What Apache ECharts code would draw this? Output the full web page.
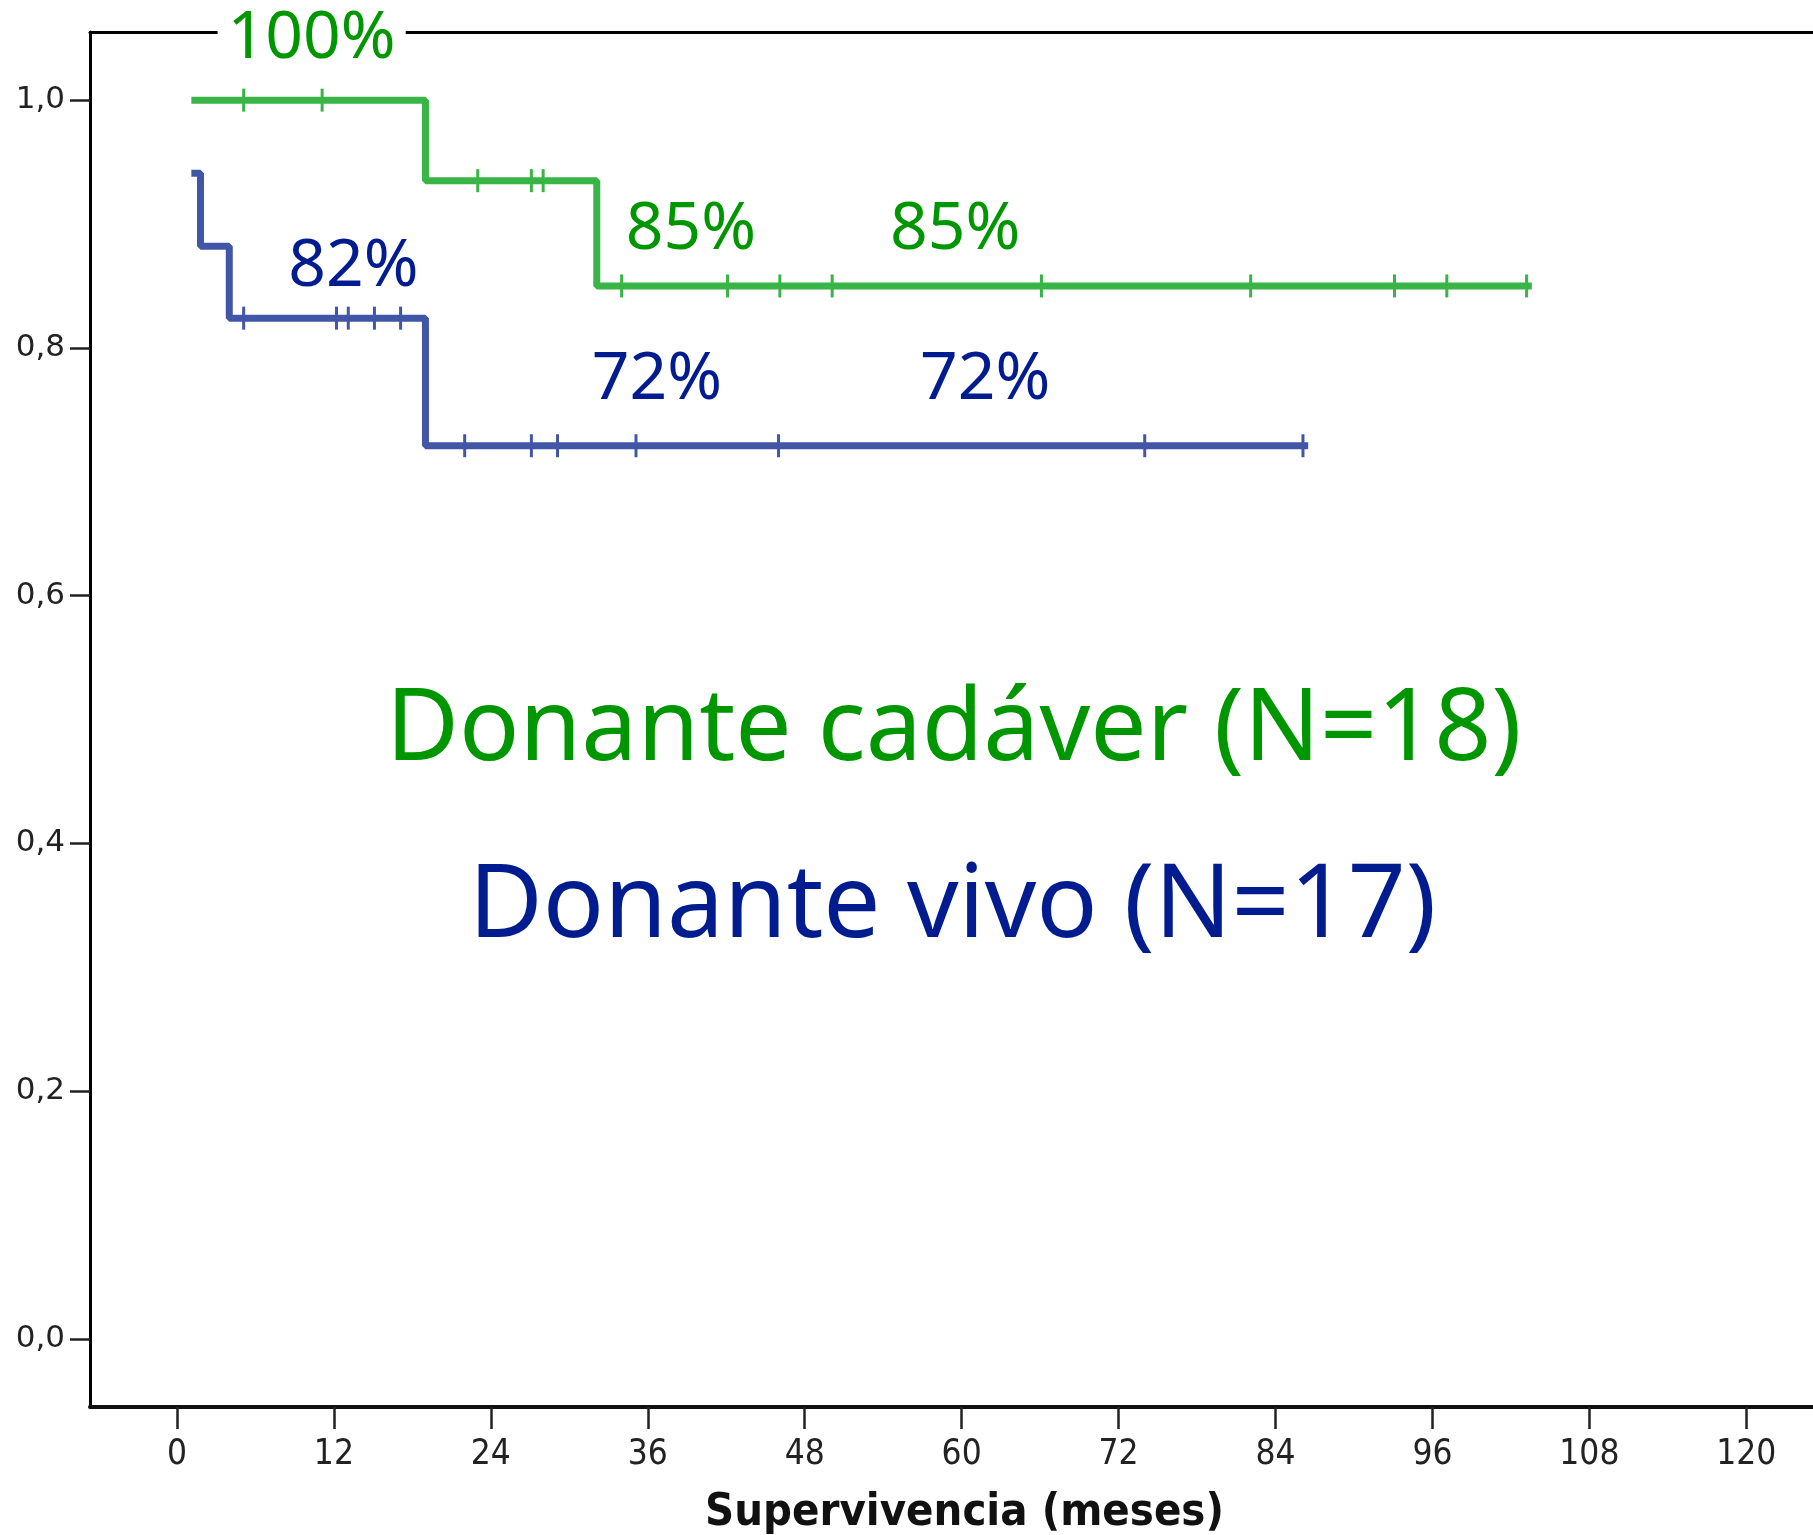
<!DOCTYPE html>
<html><head><meta charset="utf-8">
<script src="https://cdn.jsdelivr.net/npm/echarts@6/dist/echarts.min.js"></script>
<style>html,body{margin:0;padding:0;background:#fff}#c{width:1813px;height:1535px}</style>
</head><body><div id="c"></div>
<script>
// ---- data ----
const xTicks = [0, 12, 24, 36, 48, 60, 72, 84, 96, 108, 120];
const yTicks = [0, 0.2, 0.4, 0.6, 0.8, 1.0];
const yTickLabels = ['0,0', '0,2', '0,4', '0,6', '0,8', '1,0'];
const xTitle = 'Supervivencia (meses)';

const groupNames = ['Donante cadáver (N=18)', 'Donante vivo (N=17)'];
const groupNameAnchors = [[59.4, 0.490], [59.3, 0.348]];

// Kaplan-Meier steps [months, survival]
const cadaverSteps = [[1.1, 1.0], [19.0, 0.935], [32.1, 0.85], [103.6, 0.85]];
const cadaverCensored = [[5.1, 1.0], [11.1, 1.0], [23.0, 0.935], [27.1, 0.935], [28.0, 0.935],
  [34.0, 0.85], [42.1, 0.85], [46.1, 0.85], [50.1, 0.85], [66.1, 0.85], [82.1, 0.85],
  [93.1, 0.85], [97.1, 0.85], [103.2, 0.85]];
const vivoSteps = [[1.1, 0.941], [1.8, 0.882], [4.0, 0.824], [19.0, 0.721], [86.5, 0.721]];
const vivoCensored = [[5.1, 0.824], [12.2, 0.824], [13.1, 0.824], [15.1, 0.824], [17.1, 0.824],
  [22.0, 0.721], [27.1, 0.721], [29.1, 0.721], [35.1, 0.721], [46.0, 0.721], [74.0, 0.721], [86.1, 0.721]];

// percentage annotations [months, survival, text]
const cadaverPct = [[10.3, 1.049, '100%'], [39.3, 0.895, '85%'], [59.5, 0.895, '85%']];
const vivoPct = [[13.5, 0.865, '82%'], [36.7, 0.774, '72%'], [61.8, 0.774, '72%']];

// ---- styles ----
const greenLine = '#38B546', blueLine = '#4256A8';
const greenText = '#009600', blueText = '#001C8F';
const narrow = "'Liberation Sans Narrow','DejaVu Sans Condensed','Liberation Sans',sans-serif";

function textSeries(points, color, size, extra) {
  return {
    type: 'scatter', symbolSize: 1, silent: true, z: 10,
    itemStyle: { color: 'rgba(0,0,0,0)', opacity: 1 },
    data: points.map(p => ({ value: [p[0], p[1]], name: p[2] })),
    label: Object.assign({
      show: true, position: 'inside', formatter: d => d.name,
      color: color, fontSize: size, fontFamily: "'Noto Sans',sans-serif"
    }, extra || {})
  };
}
function censorSeries(points, color) {
  return {
    type: 'scatter', symbol: 'rect', symbolSize: [3, 23], silent: true, z: 5,
    itemStyle: { color: color, opacity: 1 }, data: points
  };
}
function stepSeries(points, color) {
  return {
    type: 'line', step: 'end', showSymbol: false, silent: true, z: 4, clip: false,
    lineStyle: { color: color, width: 7 }, data: points
  };
}

const xMin = -6.65, xMax = 125.1;
const chart = echarts.init(document.getElementById('c'), null, { renderer: 'canvas' });
chart.setOption({
  animation: false,
  backgroundColor: '#fff',
  grid: { left: 90, top: 32, right: 0, bottom: 128, containLabel: false, outerBoundsMode: 'none' },
  xAxis: [{
    type: 'value', min: xMin, max: xMax, position: 'bottom',
    axisLine: { show: true, onZero: false, lineStyle: { color: '#111', width: 4 } },
    axisTick: { show: true, customValues: xTicks, length: 22, lineStyle: { color: '#222', width: 2.5 } },
    axisLabel: { customValues: xTicks, margin: 30, fontSize: 35, fontFamily: narrow, color: '#222' },
    splitLine: { show: false },
    name: xTitle, nameLocation: 'middle', nameGap: 84,
    nameTextStyle: { fontSize: 45, fontWeight: 'bold', fontFamily: narrow, color: '#111', padding: [0, 0, 0, 26] }
  }, {
    type: 'value', min: xMin, max: xMax, position: 'top',
    axisLine: { show: true, onZero: false, lineStyle: { color: '#000', width: 3 } },
    axisTick: { show: false }, axisLabel: { show: false }, splitLine: { show: false }
  }],
  yAxis: {
    type: 'value', min: -0.055, max: 1.055,
    axisLine: { show: true, onZero: false, lineStyle: { color: '#000', width: 3 } },
    axisTick: { show: true, customValues: yTicks, length: 20, lineStyle: { color: '#222', width: 2.5 } },
    axisLabel: {
      customValues: yTicks, margin: 25, fontSize: 31, color: '#222',
      fontFamily: "'DejaVu Sans',sans-serif",
      formatter: v => { const i = yTicks.findIndex(t => Math.abs(t - v) < 1e-6); return i >= 0 ? yTickLabels[i] : ''; }
    },
    splitLine: { show: false }
  },
  series: [
    stepSeries(cadaverSteps, greenLine),
    stepSeries(vivoSteps, blueLine),
    censorSeries(cadaverCensored, greenLine),
    censorSeries(vivoCensored, blueLine),
    textSeries([cadaverPct[0]], greenText, 66, { backgroundColor: '#fff', padding: [6, 10] }),
    textSeries(cadaverPct.slice(1), greenText, 66),
    textSeries(vivoPct, blueText, 66),
    textSeries([[groupNameAnchors[0][0], groupNameAnchors[0][1], groupNames[0]]], greenText, 100),
    textSeries([[groupNameAnchors[1][0], groupNameAnchors[1][1], groupNames[1]]], blueText, 101.5)
  ]
});
</script></body></html>
